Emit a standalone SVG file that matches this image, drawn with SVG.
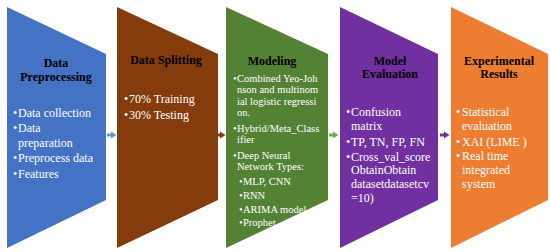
<svg xmlns="http://www.w3.org/2000/svg" width="550" height="252" viewBox="0 0 550 252">
<style>
.t{font-family:"Liberation Serif","Times New Roman",serif;font-weight:bold;font-size:12px;fill:#000;text-anchor:middle}
.b{font-family:"Liberation Serif","Times New Roman",serif;font-size:12px;fill:#fff}
.m{font-size:10.5px}
</style>
<rect width="550" height="252" fill="#fff"/>
<g id="connectors">
<polygon points="107,133.5 111,133.5 111,131.5 116.5,135 111,138.5 111,136.5 107,136.5" fill="#5B9BD5"/>
<polygon points="216,133.5 220,133.5 220,131.5 225.5,135 220,138.5 220,136.5 216,136.5" fill="#843C0C"/>
<polygon points="329,133.5 333,133.5 333,131.5 338.5,135 333,138.5 333,136.5 329,136.5" fill="#70AD47"/>
<polygon points="440,133.5 444,133.5 444,131.5 449.5,135 444,138.5 444,136.5 440,136.5" fill="#7030A0"/>
</g>
<g id="preprocessing">
<polygon points="7,7 106,54 106,200 7,248" fill="#4472C4"/>
<text class="t" x="56" y="67">Data</text>
<text class="t" x="56" y="81">Preprocessing</text>
<text class="b"><tspan x="13" y="117">•</tspan><tspan x="18" y="117">Data collection</tspan><tspan x="13" y="132">•</tspan><tspan x="18" y="132">Data</tspan><tspan x="18" y="147">preparation</tspan><tspan x="13" y="162">•</tspan><tspan x="18" y="162">Preprocess data</tspan><tspan x="13" y="178">•</tspan><tspan x="18" y="178">Features</tspan></text>
</g>
<g id="splitting">
<polygon points="117,7 218,54 218,200 117,248" fill="#843C0C"/>
<text class="t" x="166" y="64">Data Splitting</text>
<text class="b"><tspan x="124" y="103">•</tspan><tspan x="129" y="103">70%  Training</tspan><tspan x="124" y="119">•</tspan><tspan x="129" y="119">30% Testing</tspan></text>
</g>
<g id="modeling">
<polygon points="226,7 328,54 328,200 226,248" fill="#548235"/>
<text class="t" x="272" y="65">Modeling</text>
<text class="b m"><tspan x="233" y="82">•</tspan><tspan x="237" y="82">Combined Yeo-Joh</tspan><tspan x="237" y="93.3">nson and multinom</tspan><tspan x="237" y="104.6">ial logistic regressi</tspan><tspan x="237" y="115.9">on.</tspan><tspan x="233" y="131.5">•</tspan><tspan x="237" y="131.5">Hybrid/Meta_Class</tspan><tspan x="237" y="142.8">ifier</tspan><tspan x="233" y="158.5">•</tspan><tspan x="237" y="158.5">Deep Neural</tspan><tspan x="237" y="169.8">Network Types:</tspan><tspan x="239" y="184.5">•</tspan><tspan x="243" y="184.5">MLP, CNN</tspan><tspan x="239" y="198.5">•</tspan><tspan x="243" y="198.5">RNN</tspan><tspan x="239" y="212.5">•</tspan><tspan x="243" y="212.5">ARIMA model</tspan><tspan x="239" y="226">•</tspan><tspan x="243" y="226">Prophet</tspan></text>
</g>
<g id="evaluation">
<polygon points="340,7 438,54 438,200 340,248" fill="#7030A0"/>
<text class="t" x="390" y="65">Model</text>
<text class="t" x="390" y="78">Evaluation</text>
<text class="b"><tspan x="346" y="116">•</tspan><tspan x="351" y="116">Confusion</tspan><tspan x="351" y="129.8">matrix</tspan><tspan x="346" y="145.5">•</tspan><tspan x="351" y="145.5">TP, TN, FP, FN</tspan><tspan x="346" y="160.5">•</tspan><tspan x="351" y="160.5">Cross_val_score</tspan><tspan x="351" y="174.3">ObtainObtain</tspan><tspan x="351" y="188.1">datasetdatasetcv</tspan><tspan x="351" y="201.9">=10)</tspan></text>
</g>
<g id="results">
<polygon points="451,7 548,54 548,200 451,248" fill="#ED7D31"/>
<text class="t" x="499" y="65">Experimental</text>
<text class="t" x="499" y="78">Results</text>
<text class="b"><tspan x="456" y="116">•</tspan><tspan x="462" y="116">Statistical</tspan><tspan x="462" y="130">evaluation</tspan><tspan x="456" y="146">•</tspan><tspan x="462" y="146">XAI (LIME )</tspan><tspan x="456" y="160">•</tspan><tspan x="462" y="160">Real time</tspan><tspan x="462" y="174">integrated</tspan><tspan x="462" y="188">system</tspan></text>
</g>
</svg>
